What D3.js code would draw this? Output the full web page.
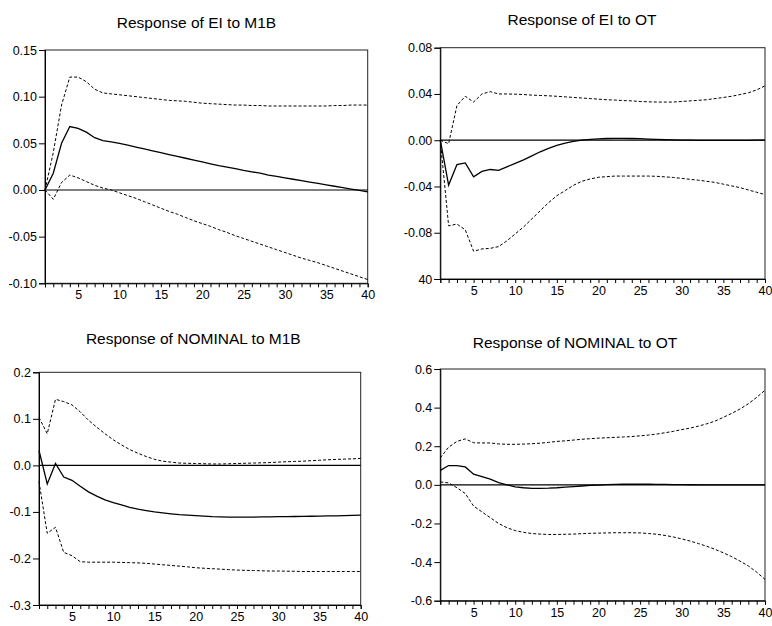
<!DOCTYPE html>
<html>
<head>
<meta charset="utf-8">
<script src="https://cdn.jsdelivr.net/npm/d3@7"></script>
<style>
  body { margin: 0; background: #fff; }
  text { font-family: "Liberation Sans", Arial, sans-serif; fill: #000; }
</style>
</head>
<body>
<div id="chart"></div>
<script>
// periods 1..40
var periods = d3.range(1, 41);
var xTickLabels = [5, 10, 15, 20, 25, 30, 35, 40];

// Response of EI to M1B
var eiM1bResp = [0.000, 0.018, 0.050, 0.068, 0.066, 0.062, 0.056, 0.053, 0.0515, 0.050,
  0.048, 0.046, 0.044, 0.042, 0.040, 0.038, 0.036, 0.034, 0.032, 0.030,
  0.028, 0.026, 0.0245, 0.023, 0.021, 0.0195, 0.018, 0.016, 0.0145, 0.013,
  0.0115, 0.010, 0.0085, 0.007, 0.0055, 0.004, 0.0025, 0.001, -0.0005, -0.002];
var eiM1bUpper = [0.000, 0.040, 0.091, 0.121, 0.121, 0.116, 0.108, 0.104, 0.103, 0.102,
  0.101, 0.100, 0.099, 0.098, 0.097, 0.096, 0.0955, 0.095, 0.094, 0.093,
  0.0925, 0.092, 0.0915, 0.091, 0.091, 0.0905, 0.0905, 0.090, 0.090, 0.090,
  0.090, 0.090, 0.090, 0.090, 0.090, 0.0905, 0.0905, 0.091, 0.091, 0.091];
var eiM1bLower = [0.000, -0.010, 0.008, 0.016, 0.013, 0.009, 0.005, 0.002, 0.000, -0.003,
  -0.006, -0.009, -0.0125, -0.016, -0.0195, -0.023, -0.026, -0.0295, -0.033, -0.036,
  -0.039, -0.0425, -0.0455, -0.049, -0.052, -0.055, -0.058, -0.061, -0.064, -0.067,
  -0.070, -0.073, -0.0755, -0.078, -0.081, -0.084, -0.087, -0.090, -0.093, -0.096];
var eiM1bTicks = [0.15, 0.10, 0.05, 0.00, -0.05, -0.10];
var eiM1bTickLabels = ["0.15", "0.10", "0.05", "0.00", "-0.05", "-0.10"];

// Response of EI to OT
var eiOtResp = [0.000, -0.0388, -0.021, -0.0196, -0.0317, -0.027, -0.0253, -0.026, -0.023, -0.020,
  -0.017, -0.0135, -0.010, -0.007, -0.0045, -0.0025, -0.001, 0.000, 0.0008, 0.0012,
  0.0015, 0.0016, 0.0016, 0.0015, 0.0013, 0.001, 0.0008, 0.0005, 0.0003, 0.0001,
  0.000, -0.0001, -0.0002, -0.0002, -0.0002, -0.0002, -0.0001, -0.0001, 0.000, 0.000];
var eiOtUpper = [0.000, -0.003, 0.030, 0.038, 0.033, 0.040, 0.042, 0.040, 0.040, 0.0398,
  0.0395, 0.039, 0.0387, 0.0384, 0.038, 0.0375, 0.037, 0.0365, 0.036, 0.0355,
  0.035, 0.0347, 0.0343, 0.034, 0.0335, 0.0332, 0.033, 0.033, 0.033, 0.0335,
  0.034, 0.0345, 0.035, 0.036, 0.037, 0.038, 0.0395, 0.041, 0.0435, 0.047];
var eiOtLower = [0.000, -0.074, -0.0725, -0.0775, -0.096, -0.094, -0.0935, -0.092, -0.087, -0.081,
  -0.075, -0.068, -0.061, -0.054, -0.048, -0.0435, -0.039, -0.0355, -0.0335, -0.032,
  -0.0315, -0.031, -0.031, -0.031, -0.031, -0.031, -0.0312, -0.0317, -0.0322, -0.033,
  -0.0338, -0.0346, -0.0355, -0.0365, -0.038, -0.0395, -0.041, -0.043, -0.045, -0.047];
var eiOtTicks = [0.08, 0.04, 0.00, -0.04, -0.08, -0.12];
var eiOtTickLabels = ["0.08", "0.04", "0.00", "-0.04", "-0.08", "40"];

// Response of NOMINAL to M1B
var nomM1bResp = [0.032, -0.040, 0.004, -0.025, -0.032, -0.045, -0.057, -0.066, -0.074, -0.080,
  -0.085, -0.090, -0.094, -0.097, -0.100, -0.102, -0.104, -0.106, -0.107, -0.108,
  -0.109, -0.110, -0.1105, -0.111, -0.111, -0.111, -0.111, -0.1108, -0.1105, -0.110,
  -0.110, -0.1098, -0.1095, -0.1093, -0.109, -0.1087, -0.1083, -0.108, -0.1075, -0.107];
var nomM1bUpper = [0.103, 0.068, 0.142, 0.137, 0.130, 0.115, 0.097, 0.082, 0.068, 0.055,
  0.044, 0.034, 0.026, 0.019, 0.013, 0.009, 0.007, 0.005, 0.0045, 0.004,
  0.0035, 0.003, 0.003, 0.0035, 0.004, 0.0045, 0.005, 0.0055, 0.006, 0.007,
  0.0078, 0.0085, 0.009, 0.010, 0.011, 0.012, 0.0128, 0.0135, 0.014, 0.015];
var nomM1bLower = [-0.035, -0.146, -0.133, -0.187, -0.194, -0.207, -0.208, -0.208, -0.208, -0.208,
  -0.2085, -0.209, -0.2095, -0.2105, -0.212, -0.2135, -0.215, -0.2165, -0.218, -0.220,
  -0.221, -0.222, -0.223, -0.224, -0.225, -0.2255, -0.226, -0.2265, -0.227, -0.227,
  -0.2273, -0.2276, -0.228, -0.228, -0.228, -0.228, -0.228, -0.228, -0.228, -0.228];
var nomM1bTicks = [0.2, 0.1, 0.0, -0.1, -0.2, -0.3];
var nomM1bTickLabels = ["0.2", "0.1", "0.0", "-0.1", "-0.2", "-0.3"];

// Response of NOMINAL to OT
var nomOtResp = [0.075, 0.100, 0.100, 0.093, 0.055, 0.042, 0.030, 0.012, 0.000, -0.010,
  -0.015, -0.018, -0.018, -0.017, -0.015, -0.012, -0.009, -0.006, -0.003, -0.001,
  0.001, 0.002, 0.003, 0.003, 0.003, 0.003, 0.0025, 0.002, 0.0015, 0.001,
  0.0005, 0.000, 0.000, 0.000, 0.000, 0.000, 0.000, 0.000, 0.000, 0.000];
var nomOtUpper = [0.140, 0.195, 0.225, 0.238, 0.218, 0.217, 0.217, 0.212, 0.210, 0.210,
  0.211, 0.213, 0.216, 0.220, 0.225, 0.228, 0.232, 0.236, 0.239, 0.242,
  0.244, 0.246, 0.248, 0.250, 0.254, 0.258, 0.263, 0.270, 0.277, 0.286,
  0.294, 0.304, 0.316, 0.330, 0.350, 0.370, 0.393, 0.420, 0.453, 0.490];
var nomOtLower = [0.015, 0.010, -0.015, -0.045, -0.110, -0.140, -0.170, -0.200, -0.222, -0.237,
  -0.246, -0.252, -0.255, -0.257, -0.257, -0.256, -0.255, -0.253, -0.251, -0.250,
  -0.249, -0.248, -0.248, -0.248, -0.249, -0.252, -0.256, -0.262, -0.270, -0.280,
  -0.291, -0.304, -0.318, -0.334, -0.352, -0.372, -0.395, -0.420, -0.452, -0.490];
var nomOtTicks = [0.6, 0.4, 0.2, 0.0, -0.2, -0.4, -0.6];
var nomOtTickLabels = ["0.6", "0.4", "0.2", "0.0", "-0.2", "-0.4", "-0.6"];

var titles = ["Response of EI to M1B", "Response of EI to OT",
  "Response of NOMINAL to M1B", "Response of NOMINAL to OT"];

window.addEventListener('DOMContentLoaded', function () {
  var svg = d3.select("#chart")
    .append("svg")
    .attr("width", 772)
    .attr("height", 626);

  // plot boxes
  drawPanel(svg, { left: 45, right: 367.7, top: 50, bottom: 283.3, titleX: 196.5, titleY: 27.5 },
    titles[0], eiM1bResp, eiM1bUpper, eiM1bLower, eiM1bTicks, eiM1bTickLabels);
  drawPanel(svg, { left: 440.3, right: 765, top: 47.7, bottom: 279, titleX: 582, titleY: 25 },
    titles[1], eiOtResp, eiOtUpper, eiOtLower, eiOtTicks, eiOtTickLabels);
  drawPanel(svg, { left: 39, right: 360.7, top: 372.3, bottom: 605, titleX: 193.3, titleY: 343.5 },
    titles[2], nomM1bResp, nomM1bUpper, nomM1bLower, nomM1bTicks, nomM1bTickLabels);
  drawPanel(svg, { left: 440.3, right: 765, top: 369, bottom: 600.7, titleX: 575, titleY: 347.5 },
    titles[3], nomOtResp, nomOtUpper, nomOtLower, nomOtTicks, nomOtTickLabels);
});

function drawPanel(svg, box, title, resp, upper, lower, yTicks, yTickLabels) {
  var x = d3.scaleLinear()
    .domain([1, 40])
    .range([box.left, box.right]);

  var y = d3.scaleLinear()
    .domain([d3.min(yTicks), d3.max(yTicks)])
    .range([box.bottom, box.top]);

  var g = svg.append("g");

  g.append("text")
    .attr("x", box.titleX)
    .attr("y", box.titleY)
    .attr("text-anchor", "middle")
    .style("font-size", "15.5px")
    .text(title);

  // frame
  g.append("rect")
    .attr("x", box.left)
    .attr("y", box.top)
    .attr("width", box.right - box.left)
    .attr("height", box.bottom - box.top)
    .attr("fill", "none")
    .attr("stroke", "#222")
    .attr("stroke-width", 1);

  // zero line
  g.append("line")
    .attr("x1", box.left)
    .attr("x2", box.right)
    .attr("y1", y(0))
    .attr("y2", y(0))
    .attr("stroke", "#000")
    .attr("stroke-width", 1.2);

  var gx = g.append("g")
    .attr("transform", "translate(0," + box.bottom + ")")
    .call(d3.axisBottom(x)
      .tickValues(periods)
      .tickSize(4)
      .tickPadding(3)
      .tickFormat(function (d) { return xTickLabels.indexOf(d) >= 0 ? d : ""; }));

  var gy = g.append("g")
    .attr("transform", "translate(" + box.left + ",0)")
    .call(d3.axisLeft(y)
      .tickValues(yTicks)
      .tickSize(6)
      .tickPadding(2)
      .tickFormat(function (d, i) { return yTickLabels[i]; }));

  g.selectAll(".domain").attr("stroke", "#000");
  g.selectAll(".tick line").attr("stroke", "#000");
  g.selectAll(".tick text")
    .attr("fill", "#000")
    .style("font-family", "'Liberation Sans', Arial, sans-serif")
    .style("font-size", "12.5px");

  var line = d3.line()
    .x(function (d, i) { return x(periods[i]); })
    .y(function (d) { return y(d); });

  g.append("path")
    .datum(upper)
    .attr("fill", "none")
    .attr("stroke", "#000")
    .attr("stroke-width", 1)
    .attr("stroke-dasharray", "3,2")
    .attr("d", line);

  g.append("path")
    .datum(lower)
    .attr("fill", "none")
    .attr("stroke", "#000")
    .attr("stroke-width", 1)
    .attr("stroke-dasharray", "3,2")
    .attr("d", line);

  g.append("path")
    .datum(resp)
    .attr("fill", "none")
    .attr("stroke", "#000")
    .attr("stroke-width", 1.3)
    .attr("d", line);
}
</script>
</body>
</html>
